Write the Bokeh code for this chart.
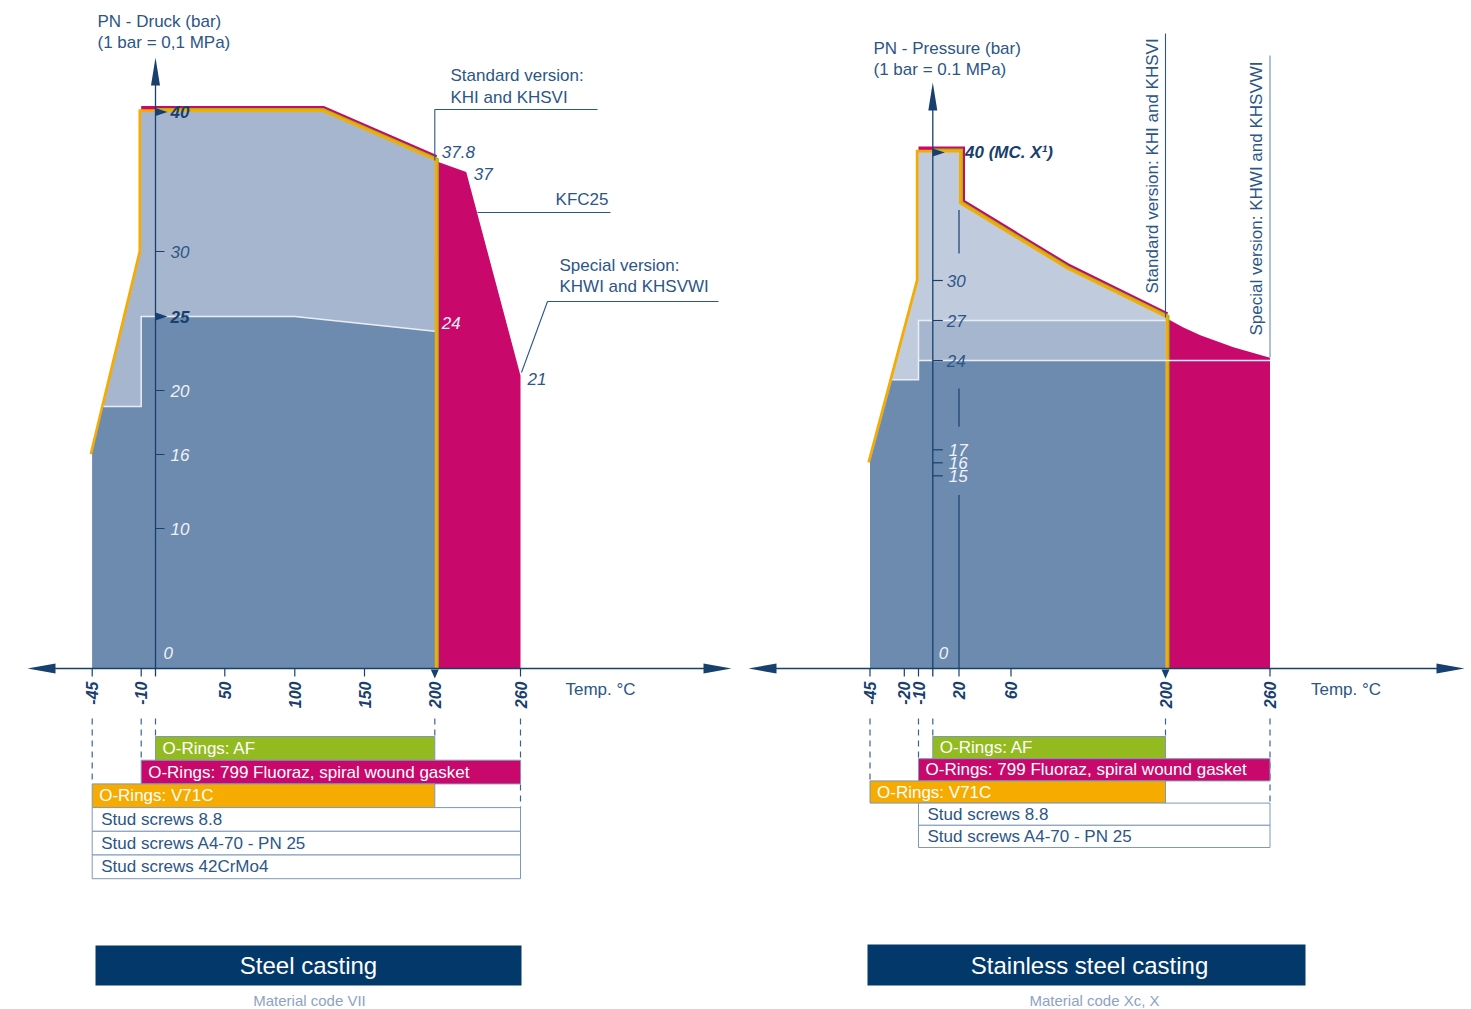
from math import pi
import numpy as np
from bokeh.plotting import figure
from bokeh.models import ColumnDataSource, Range1d, LinearInterpolator
from bokeh.transform import transform
from bokeh.core.properties import value
from bokeh.embed import file_html
from bokeh.resources import INLINE

# ---------------- schematic axes: tick value -> drawn position ----------------
L_AXIS_T = [-45, -10, 0, 50, 100, 150, 200, 260]
L_AXIS_X = [91.7, 140.7, 155, 224.3, 294.3, 364, 434.3, 520]
L_AXIS_P = [0, 10, 16, 20, 25, 30, 40]
L_AXIS_Y = [668, 528, 454, 390, 316, 251, 111.5]
R_AXIS_T = [-45, -20, -10, 0, 20, 60, 200, 260]
R_AXIS_X = [869.5, 903.8, 918, 932.3, 958.5, 1010.5, 1165, 1269.5]
R_AXIS_P = [0, 15, 16, 17, 24, 27, 30, 40]
R_AXIS_Y = [668, 475.3, 462.3, 449.3, 360, 320, 280, 152]

# ---------------- data: Steel casting (left) ----------------
L_XTICKS = [-45, -10, 50, 100, 150, 200, 260]
L_YTICKS_PLAIN = [30, 20, 16, 10]
L_YTICKS_MARKED = [40, 25]
L_STD_T = [-45, -45, -10, -10, 120, 200, 200]          # standard version envelope
L_STD_P = [0, 16, 30, 40, 40, 36.5, 0]
L_V71C_T = [-45, -10, -10, 120, 200, 200]               # yellow edge
L_V71C_P = [16, 30, 40, 40, 36.5, 0]
L_AF_T = [0, 120, 200, 200]                              # green edge
L_AF_P = [40, 40, 36.5, 0]
L_FLU_T = [-10, 120, 200]                                # magenta edge
L_FLU_P = [40, 40, 36.5]
L_KFC_T = [200, 200, 222, 260, 260]                      # KFC25 region
L_KFC_P = [0, 36.5, 35.7, 21, 0]
L_SPEC_T = [-45, -45, -37, -10, -10, 100, 200, 200]     # special version region
L_SPEC_P = [0, 16, 19, 19, 25, 25, 24, 0]

L_BAR_LABELS = ["O-Rings: AF", "O-Rings: 799 Fluoraz, spiral wound gasket", "O-Rings: V71C",
                "Stud screws 8.8", "Stud screws A4-70 - PN 25", "Stud screws 42CrMo4"]
L_BAR_FROM = [0, -10, -45, -45, -45, -45]
L_BAR_TO = [200, 260, 200, 260, 260, 260]

# ---------------- data: Stainless steel casting (right) ----------------
R_XTICKS = [-45, -20, -10, 20, 60, 200, 260]
R_YTICKS_DARK = [30, 27, 24]
R_YTICKS_LIGHT = [17, 16, 15]
R_STD_T = [-45, -45, -10, -10, 20, 20, 110, 200, 200]
R_STD_P = [0, 16, 30, 40, 40, 36, 30.9, 27.2, 0]
R_V71C_T = [-45, -10, -10, 20, 20, 110, 200, 200]
R_V71C_P = [16, 30, 40, 40, 36, 30.9, 27.2, 0]
R_AF_T = [0, 20, 20, 110, 200, 200]
R_AF_P = [40, 40, 36, 30.9, 27.2, 0]
R_FLU_T = [-10, 20, 20, 110, 200]
R_FLU_P = [40, 40, 36, 30.9, 27.2]
R_MID_T = [-10, -10, 200, 200]
R_MID_P = [24, 27, 27, 24]
R_SPEC_T = [-45, -45, -28.8, -10, -10, 200, 200]
R_SPEC_P = [0, 16, 22.5, 22.5, 24, 24, 0]
R_KHWI_T = [200, 200, 210, 220, 239, 260, 260]
R_KHWI_P = [0, 27.2, 26.5, 25.9, 25.0, 24.2, 0]

R_BAR_LABELS = ["O-Rings: AF", "O-Rings: 799 Fluoraz, spiral wound gasket", "O-Rings: V71C",
                "Stud screws 8.8", "Stud screws A4-70 - PN 25"]
R_BAR_FROM = [0, -10, -45, -10, -10]
R_BAR_TO = [200, 260, 200, 260, 260]

# ---------------- styles ----------------
FONT = "Liberation Sans"
NAVY = "#17406e"
TXT = "#2b5686"
LIGHTTXT = "#eef2f8"
MAGENTA = "#c8086b"
YELLOW = "#f6ab00"
GREEN = "#93bb1f"
C_LIGHT_L = "#a6b6cf"
C_LIGHT_R = "#c1cbde"
C_MID = "#a6b6cf"
C_DARK = "#6d8aaf"
BOXNAVY = "#02396a"
BAR_COLORS = [GREEN, MAGENTA, YELLOW, "white", "white", "white"]

W, H = 1470, 1008
p = figure(width=W, height=H, x_range=Range1d(0, W), y_range=Range1d(H, 0),
           output_backend="svg", toolbar_location=None, min_border=0,
           x_axis_location=None, y_axis_location=None)
p.grid.visible = False
p.outline_line_color = None
p.background_fill_color = "white"

LX = LinearInterpolator(x=L_AXIS_T, y=L_AXIS_X)
LY = LinearInterpolator(x=L_AXIS_P, y=L_AXIS_Y)
RX = LinearInterpolator(x=R_AXIS_T, y=R_AXIS_X)
RY = LinearInterpolator(x=R_AXIS_P, y=R_AXIS_Y)


def lx(t):
    return float(np.interp(t, L_AXIS_T, L_AXIS_X))


def rx(t):
    return float(np.interp(t, R_AXIS_T, R_AXIS_X))


def area(ts, vs, tx, ty, color):
    src = ColumnDataSource(dict(t=ts, v=vs))
    p.patch(x=transform("t", tx), y=transform("v", ty), source=src,
            fill_color=color, line_color=None)


def edge(ts, vs, tx, ty, color, w, dash="solid"):
    src = ColumnDataSource(dict(t=ts, v=vs))
    p.line(x=transform("t", tx), y=transform("v", ty), source=src,
           line_color=color, line_width=w, line_join="miter", line_dash=dash)


def txt(x, y, s, size="17px", color=TXT, style="normal", align="left", angle=0,
        font=FONT, baseline="middle"):
    p.text(x=[x], y=[y], text=[s], text_font=value(font), text_font_size=size,
           text_color=color, text_font_style=style, text_align=align,
           text_baseline=baseline, angle=angle)


def tri(xs, ys, color=NAVY):
    p.patch(x=xs, y=ys, fill_color=color, line_color=None)


# ---- fills and edges ----
area(L_KFC_T, L_KFC_P, LX, LY, MAGENTA)
area(R_KHWI_T, R_KHWI_P, RX, RY, MAGENTA)
for (ft, fp, at, ap, vt, vp, tx, ty) in [
        (L_FLU_T, L_FLU_P, L_AF_T, L_AF_P, L_V71C_T, L_V71C_P, LX, LY),
        (R_FLU_T, R_FLU_P, R_AF_T, R_AF_P, R_V71C_T, R_V71C_P, RX, RY)]:
    edge(ft, fp, tx, ty, MAGENTA, 12)
    edge(at, ap, tx, ty, GREEN, 8)
    edge(vt, vp, tx, ty, YELLOW, 5.5)
area(L_STD_T, L_STD_P, LX, LY, C_LIGHT_L)
area(R_STD_T, R_STD_P, RX, RY, C_LIGHT_R)
area(R_MID_T, R_MID_P, RX, RY, C_MID)
area(L_SPEC_T, L_SPEC_P, LX, LY, C_DARK)
area(R_SPEC_T, R_SPEC_P, RX, RY, C_DARK)
edge(L_SPEC_T[2:-1], L_SPEC_P[2:-1], LX, LY, "#e9eef5", 1.5)
edge(R_SPEC_T[2:4] + R_MID_T[1:3], R_SPEC_P[2:4] + R_MID_P[1:3], RX, RY, "#e9eef5", 1.5)
edge([-10, 260], [24, 24], RX, RY, "#e9eef5", 1.5)

# ---- axes ----
AX_Y = 668
for (x0, x1, a0, a1) in [(27, 731, 55, 703), (748, 1464, 776, 1436)]:
    p.segment(x0=[x0 + 10], y0=[AX_Y], x1=[x1 - 10], y1=[AX_Y], line_color=NAVY, line_width=1.3)
    tri([x0, a0, a0], [AX_Y, AX_Y - 5, AX_Y + 5])
    tri([x1, a1, a1], [AX_Y, AX_Y - 5, AX_Y + 5])
for (x, top) in [(lx(0), 57), (rx(0), 82)]:
    p.segment(x0=[x], y0=[top + 10], x1=[x], y1=[676], line_color=NAVY, line_width=1.3)
    tri([x, x - 4.5, x + 4.5], [top, top + 28, top + 28])

# x ticks
for ticks, tx, xf, tgap in [(L_XTICKS, LX, lx, 45), (R_XTICKS, RX, rx, 41)]:
    small = [t for t in ticks if t != 200]
    src = ColumnDataSource(dict(t=small))
    p.segment(x0=transform("t", tx), y0=AX_Y, x1=transform("t", tx), y1=676, source=src,
              line_color=NAVY, line_width=1.2)
    x2 = xf(200)
    tri([x2 - 4, x2 + 4, x2], [669, 669, 678])
    src = ColumnDataSource(dict(t=ticks, lab=[str(v) for v in ticks]))
    p.text(x=transform("t", tx), y=681, text="lab", source=src, angle=pi / 2,
           text_align="right", text_baseline="middle", text_font=value(FONT),
           text_font_style="bold italic", text_font_size="16px", text_color=NAVY)
    txt(xf(260) + tgap, 689, "Temp. °C", size="17px")

# y ticks left
ax0 = lx(0)
src = ColumnDataSource(dict(v=L_YTICKS_PLAIN, lab=[str(v) for v in L_YTICKS_PLAIN],
                            c=[TXT, LIGHTTXT, LIGHTTXT, LIGHTTXT]))
p.segment(x0=ax0, y0=transform("v", LY), x1=ax0 + 9, y1=transform("v", LY), source=src,
          line_color=NAVY, line_width=1.2)
p.text(x=ax0 + 15, y=transform("v", LY), text="lab", text_color="c", source=src,
       text_font=value(FONT), text_font_style="italic", text_font_size="17px",
       text_baseline="middle")
for v in L_YTICKS_MARKED:
    yv = float(np.interp(v, L_AXIS_P, L_AXIS_Y))
    tri([ax0, ax0, ax0 + 12], [yv - 4, yv + 4, yv])
    txt(ax0 + 15, yv, str(v), size="17px", color=NAVY, style="bold italic")
txt(ax0 + 8, 652, "0", size="17px", color=LIGHTTXT, style="italic")

# y ticks right
ar0 = rx(0)
src = ColumnDataSource(dict(v=R_YTICKS_DARK + R_YTICKS_LIGHT,
                            lab=[str(v) for v in R_YTICKS_DARK + R_YTICKS_LIGHT],
                            c=[TXT] * 3 + [LIGHTTXT] * 3,
                            xo=[14] * 3 + [16] * 3))
p.segment(x0=ar0, y0=transform("v", RY), x1=ar0 + 10, y1=transform("v", RY), source=src,
          line_color=NAVY, line_width=1.2)
p.text(x=ar0, y=transform("v", RY), x_offset="xo", text="lab", text_color="c", source=src,
       text_font=value(FONT), text_font_style="italic", text_font_size="17px",
       text_baseline="middle")
yv = float(np.interp(40, R_AXIS_P, R_AXIS_Y))
tri([ar0, ar0, ar0 + 12], [yv - 4, yv + 4, yv])
txt(rx(20) + 6, yv, "40 (MC. X¹)", size="17px", color=NAVY, style="bold italic")
txt(ar0 + 6, 652, "0", size="17px", color=LIGHTTXT, style="italic")
# broken guide at 20 deg C
for (a, b) in [(0, 13.5), (18.8, 21.8), (32.1, 35.5)]:
    src = ColumnDataSource(dict(t=[20], a=[a], b=[b]))
    p.segment(x0=transform("t", RX), y0=transform("a", RY), x1=transform("t", RX),
              y1=transform("b", RY), source=src, line_color=NAVY, line_width=1.2)

# ---- value labels (left) ----
txt(lx(200) + 7, 151, "37.8", style="italic")
txt(lx(200) + 39, 173, "37", style="italic")
txt(lx(200) + 7, 322, "24", style="italic", color=LIGHTTXT)
txt(lx(260) + 7, 378, "21", style="italic")

# ---- callouts left ----
for xs, ys in [([lx(200), lx(200), 597], [160, 109, 109]),
               ([477, 610], [212, 212]),
               ([lx(260) + 1, 547, 718], [372, 301, 301])]:
    p.line(x=xs, y=ys, line_color=TXT, line_width=1.1)
txt(450, 75, "Standard version:")
txt(450, 97, "KHI and KHSVI")
txt(608, 199, "KFC25", align="right")
txt(559, 265, "Special version:")
txt(559, 286, "KHWI and KHSVWI")
txt(97, 21, "PN - Druck (bar)")
txt(97, 42, "(1 bar = 0,1 MPa)")

# ---- callouts right ----
p.segment(x0=[rx(200)], y0=[33], x1=[rx(200)], y1=[317], line_color=TXT, line_width=1.1)
p.segment(x0=[rx(260)], y0=[55], x1=[rx(260)], y1=[357], line_color="#7f9fc2", line_width=1.3)
txt(1152, 293, "Standard version: KHI and KHSVI", angle=pi / 2)
txt(1256, 335, "Special version: KHWI and KHSVWI", angle=pi / 2)
txt(873, 48, "PN - Pressure (bar)")
txt(873, 69, "(1 bar = 0.1 MPa)")


# ---- dashed guides and bars ----
def bars(labels, t0, t1, tx, xf, top0, rows_h, guide_ends):
    n = len(labels)
    tops = [top0 + i * rows_h for i in range(n)]
    bots = [t + rows_h for t in tops]
    for t, yend in guide_ends:
        x = xf(t)
        p.segment(x0=[x], y0=[718], x1=[x], y1=[yend], line_color="#3b6391",
                  line_width=1.2, line_dash="6 5")
    src = ColumnDataSource(dict(t0=t0, t1=t1, top=tops, bottom=bots,
                                fill=BAR_COLORS[:n],
                                tc=["white"] * 3 + [TXT] * (n - 3),
                                xo=[7] * 3 + [9] * (n - 3),
                                ym=[(a + b) / 2 for a, b in zip(tops, bots)],
                                lab=labels))
    p.quad(left=transform("t0", tx), right=transform("t1", tx), top="top", bottom="bottom",
           source=src, fill_color="fill", line_color="#7d98ba", line_width=1)
    p.text(x=transform("t0", tx), y="ym", text="lab", source=src, x_offset="xo",
           text_color="tc", text_font=value(FONT), text_font_size="17px",
           text_baseline="middle")


bars(L_BAR_LABELS, L_BAR_FROM, L_BAR_TO, LX, lx, 736, 23.7,
     [(-45, 784), (-10, 760), (0, 736), (200, 736), (260, 808)])
bars(R_BAR_LABELS, R_BAR_FROM, R_BAR_TO, RX, rx, 736, 22.2,
     [(-45, 781), (-10, 758), (0, 736), (200, 736), (260, 803)])

# ---- titles ----
p.quad(left=[95, 867], right=[521, 1305], top=[945, 944], bottom=[985, 985],
       fill_color=BOXNAVY, line_color=None)
txt(308, 965, "Steel casting", size="24px", color="white", align="center")
txt(1089, 965, "Stainless steel casting", size="24px", color="white", align="center")
txt(309, 1000, "Material code VII", size="15px", color="#8ea3c3", align="center")
txt(1094, 1000, "Material code Xc, X", size="15px", color="#8ea3c3", align="center")

open("out.html", "w").write(file_html(p, INLINE))
